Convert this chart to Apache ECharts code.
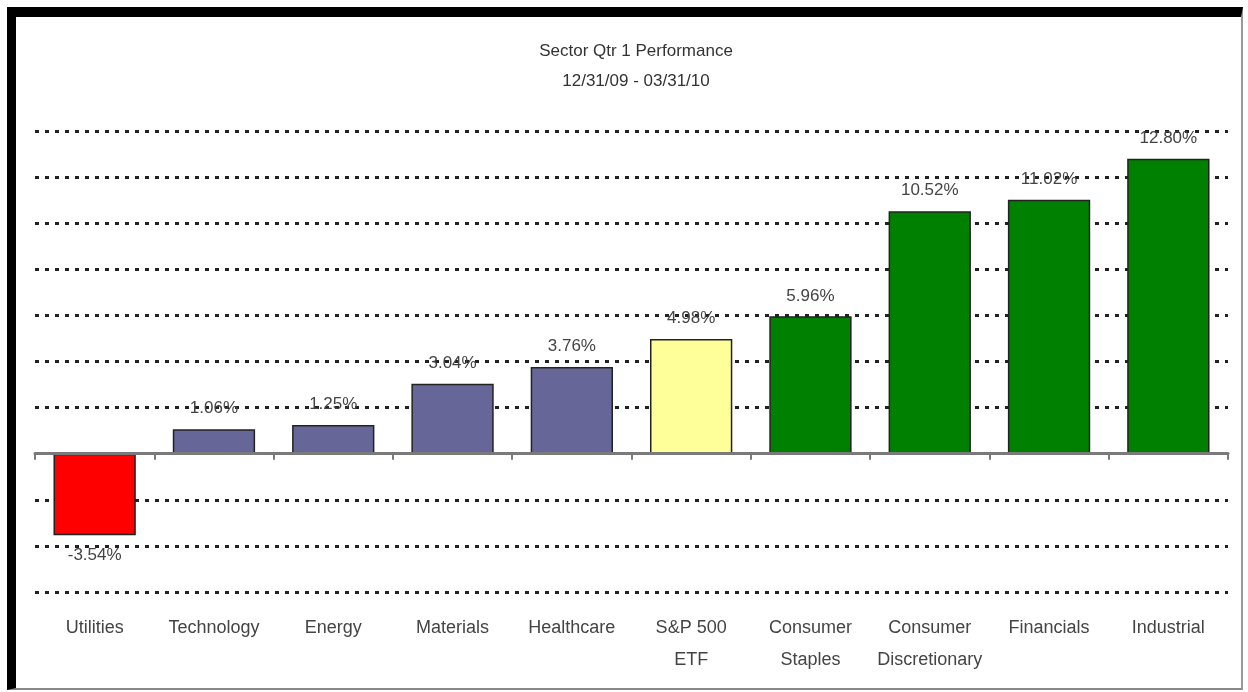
<!DOCTYPE html>
<html>
<head>
<meta charset="utf-8">
<title>Sector Qtr 1 Performance</title>
<script src="https://cdn.jsdelivr.net/npm/echarts@6/dist/echarts.min.js"></script>
<style>
  html, body { margin: 0; padding: 0; background: #fff; }
  #chart { position: absolute; left: 0; top: 0; width: 1248px; height: 692px; }
  #frame {
    position: absolute; left: 7px; top: 7px; width: 1225px; height: 671px;
    border-left: 9px solid #000; border-top: 10px solid #000;
    border-right: 2px solid #999; border-bottom: 2px solid #888;
    pointer-events: none;
  }
</style>
</head>
<body>
<div id="chart"></div>
<div id="frame"></div>
<script>
// sector names and Q1 returns (%)
const sectors = ['Utilities', 'Technology', 'Energy', 'Materials', 'Healthcare',
  'S&P 500\nETF', 'Consumer\nStaples', 'Consumer\nDiscretionary', 'Financials', 'Industrial']
const returns = [-3.54, 1.06, 1.25, 3.04, 3.76, 4.98, 5.96, 10.52, 11.02, 12.80]
const barColors = ['#ff0000', '#666699', '#666699', '#666699', '#666699',
  '#ffff99', '#008000', '#008000', '#008000', '#008000']

const chart = echarts.init(document.getElementById('chart'))

chart.setOption({
  animation: false,
  textStyle: { fontFamily: 'Liberation Sans, Arial, sans-serif' },
  title: {
    text: 'Sector Qtr 1 Performance\n12/31/09 - 03/31/10',
    left: 631,
    top: 31,
    textAlign: 'center',
    textStyle: { fontSize: 17, fontWeight: 'normal', color: '#333', lineHeight: 30 }
  },
  grid: { left: 35, right: 20, top: 131, bottom: 100 },
  xAxis: [
    {
      type: 'category',
      data: sectors,
      position: 'bottom',
      axisLine: { show: false, onZero: false },
      axisTick: { show: false },
      axisLabel: { fontSize: 18, color: '#444', lineHeight: 32, margin: 20, interval: 0 }
    },
    {
      type: 'category',
      data: sectors,
      position: 'top',
      z: 5,
      axisLine: { onZero: true, lineStyle: { color: '#7a7a7a', width: 3 } },
      axisTick: { show: true, inside: true, length: 6, lineStyle: { color: '#7a7a7a', width: 2 } },
      axisLabel: { show: false }
    }
  ],
  yAxis: {
    type: 'value',
    min: -6,
    max: 14,
    interval: 2,
    axisLine: { show: false },
    axisTick: { show: false },
    axisLabel: { show: false },
    splitLine: { lineStyle: { color: '#222', width: 3, type: [4, 6] } }
  },
  series: [{
    type: 'bar',
    xAxisIndex: 0,
    barCategoryGap: '31%',
    data: returns.map((v, i) => ({
      value: v,
      itemStyle: { color: barColors[i] },
      label: { position: v < 0 ? 'bottom' : 'top' }
    })),
    itemStyle: { borderColor: '#222', borderWidth: 1.5 },
    label: {
      show: true,
      distance: 12,
      fontSize: 17,
      color: '#444',
      formatter: p => p.value.toFixed(2) + '%'
    }
  }]
})
</script>
</body>
</html>
